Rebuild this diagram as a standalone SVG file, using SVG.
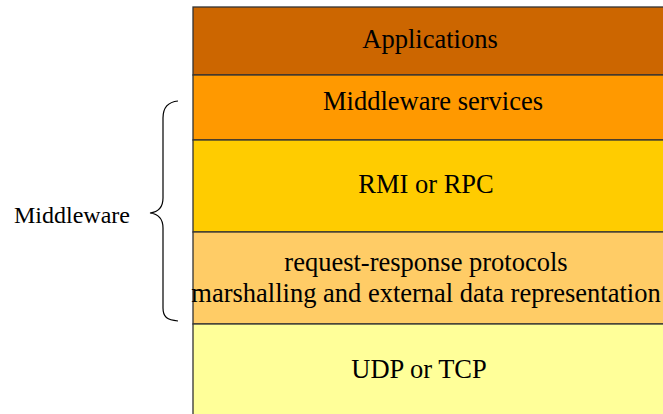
<svg xmlns="http://www.w3.org/2000/svg" width="663" height="414" viewBox="0 0 663 414">
<style>
.layer{stroke:#333;stroke-width:1.3}
.t{font-family:"Liberation Serif","Times New Roman",serif;font-size:26.5px;fill:#000;text-anchor:middle}
.lbl{font-family:"Liberation Serif","Times New Roman",serif;font-size:24px;fill:#000}
</style>
<rect width="663" height="414" fill="#fff"/>
<g id="applications"><rect class="layer" x="193" y="7" width="480" height="68" fill="#CC6600"/><text class="t" x="430" y="48">Applications</text></g>
<g id="middleware-services"><rect class="layer" x="193" y="75" width="480" height="65" fill="#FF9900"/><text class="t" x="433" y="110">Middleware services</text></g>
<g id="rmi-rpc"><rect class="layer" x="193" y="140" width="480" height="92" fill="#FFCC00"/><text class="t" x="426" y="193">RMI or RPC</text></g>
<g id="request-response"><rect class="layer" x="193" y="232" width="480" height="92" fill="#FFCC66"/><text class="t" x="426" y="271">request-response protocols</text><text class="t" x="426" y="302">marshalling and external data representation</text></g>
<g id="udp-tcp"><rect class="layer" x="193" y="324" width="480" height="100" fill="#FFFF99"/><text class="t" x="419" y="378">UDP or TCP</text></g>
<g id="middleware"><path d="M178,101 C167,102 163,108 163,118 L163,198 C163,207 158,212 150,213 C158,214 163,219 163,228 L163,308 C163,317 167,320 178,321" fill="none" stroke="#000" stroke-width="1.2"/><text class="lbl" x="14" y="223">Middleware</text></g>
<g id="connectors"></g>
</svg>
